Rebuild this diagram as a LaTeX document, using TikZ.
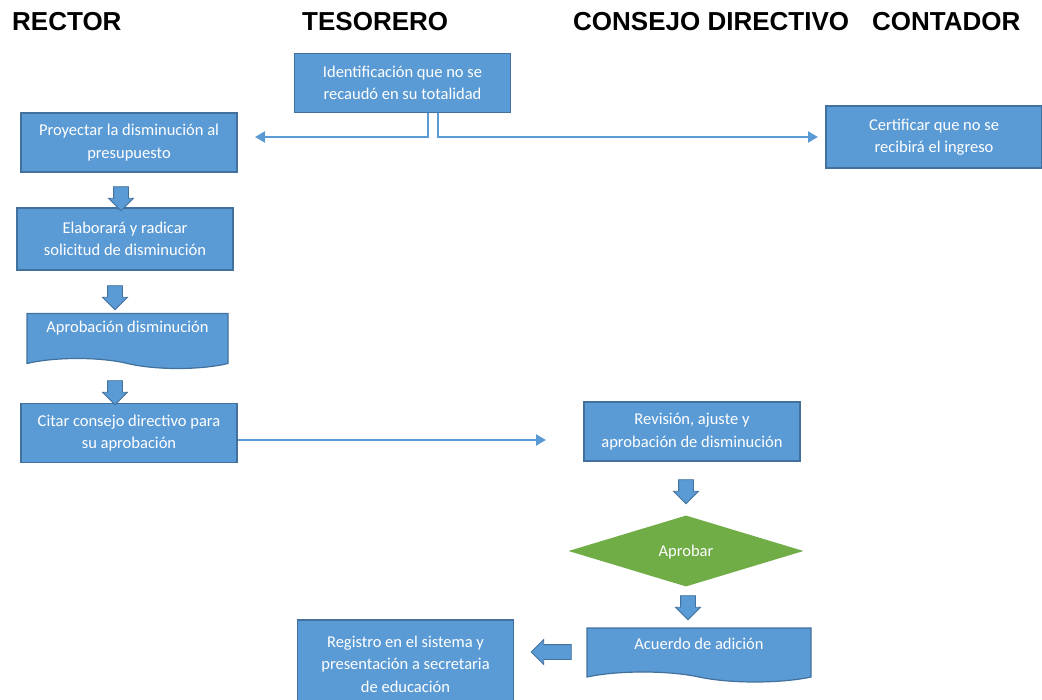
\documentclass[tikz,border=0pt]{standalone}
\usepackage{fontspec}
\setmainfont{Carlito}
\newfontfamily\titlefont{Liberation Sans}
\usetikzlibrary{shapes.geometric,shapes.arrows,shapes.symbols,arrows.meta}
\definecolor{boxblue}{HTML}{5B9BD5}
\definecolor{edgeblue}{HTML}{41719C}
\definecolor{okgreen}{HTML}{70AD47}
\begin{document}
\begin{tikzpicture}[
   x=1pt, y=-1pt,
   title/.style={anchor=base west, inner sep=0, font=\titlefont\bfseries\fontsize{26}{30}\selectfont},
   box/.style={rectangle, draw=edgeblue, line width=1.2pt, fill=boxblue, text=white, align=center,
      font=\fontsize{16.5}{22.5}\selectfont, minimum width=216pt, minimum height=59pt, inner sep=0},
   doc/.style={box, tape, tape bend top=none, tape bend bottom=out and in, tape bend height=10pt},
   decide/.style={diamond, fill=okgreen, text=white, font=\fontsize{16.5}{22.5}\selectfont,
      minimum width=235pt, minimum height=71pt, aspect=3.3, inner sep=0},
   block/.style={single arrow, draw=edgeblue, line width=0.8pt, fill=boxblue, minimum height=24pt,
      inner xsep=0, inner ysep=7pt, single arrow head extend=5pt},
   down/.style={block, rotate=-90},
   back/.style={block, rotate=180, minimum height=40pt},
   arrow/.style={-{Triangle[length=10pt,width=11pt]}, draw=boxblue, line width=2.4pt}
]
\useasboundingbox (0,0) rectangle (1042,700);

% lanes
\node[title] (rector) at (12,31) {RECTOR};
\node[title] (tesorero) at (302,31) {TESORERO};
\node[title] (consejo) at (573,31) {CONSEJO DIRECTIVO};
\node[title] (contador) at (872,31) {CONTADOR};

% steps
\node[box] (ident) at (402.5,83) {Identificación que no se\\recaudó en su totalidad};
\node[box] (proyectar) at (129,142.5) {Proyectar la disminución al\\presupuesto};
\node[box, minimum height=62pt] (certificar) at (934,137) {Certificar que no se\\recibirá el ingreso};
\node[box, minimum height=62pt] (elaborar) at (125,239) {Elaborará y radicar\\solicitud de disminución};
\node[doc, minimum width=201pt, minimum height=55pt, text depth=18pt] (aprobacion) at (127.5,336) {Aprobación disminución};
\node[box] (citar) at (129,433) {Citar consejo directivo para\\su aprobación};
\node[box] (revision) at (692,431.5) {Revisión, ajuste y\\aprobación de disminución};
\node[decide, text depth=0pt] (aprobar) at (686,551) {Aprobar};
\node[doc, minimum width=224pt, minimum height=54pt, text depth=13pt] (acuerdo) at (699,650) {Acuerdo de adición};
\node[box, minimum height=88pt] (registro) at (405.5,664) {Registro en el sistema y\\presentación a secretaria\\de educación};

% block arrows
\node[down] (d1) at (121,195) {};
\node[down] (d2) at (115,294) {};
\node[down] (d3) at (115,389) {};
\node[down] (d4) at (686,488) {};
\node[down] (d5) at (688,604) {};
\node[back] (d6) at (555,652) {};

% connectors
\coordinate (pend) at (255,137);
\coordinate (cend) at (818,137);
\coordinate (rend) at (546,440);
\draw[arrow] ([xshift=25.5pt]ident.south) |- (pend);
\draw[arrow] ([xshift=35.5pt]ident.south) |- (cend);
\draw[arrow] (citar.east |- rend) -- (rend);

\end{tikzpicture}
\end{document}
